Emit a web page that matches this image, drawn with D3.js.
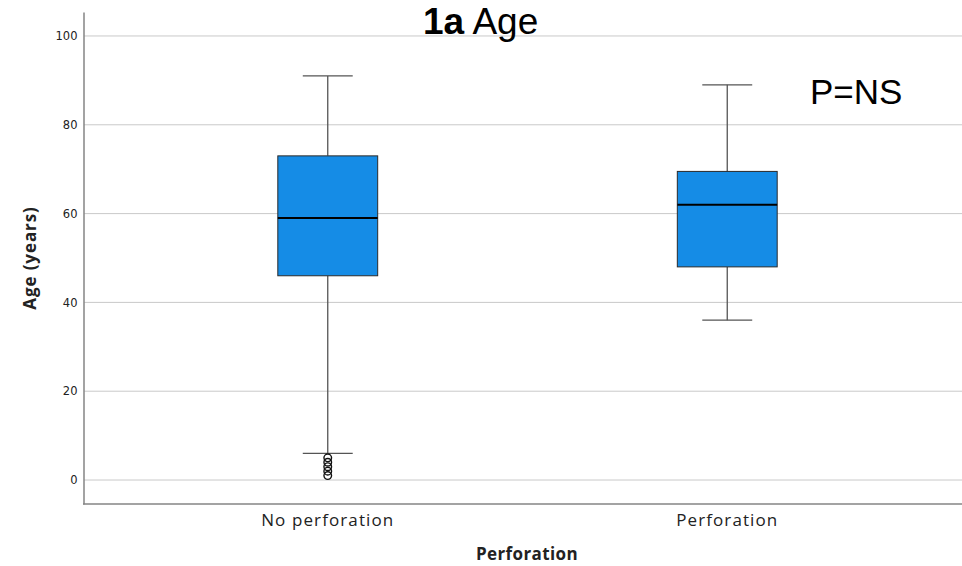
<!DOCTYPE html>
<html>
<head>
<meta charset="utf-8">
<script src="https://cdn.jsdelivr.net/npm/d3@7"></script>
<style>
  body { margin: 0; background: #fff; }
  svg { display: block; }
</style>
</head>
<body>
<div id="chart"></div>
<script>
// values
const categories = ["No perforation", "Perforation"];
const whiskerLow = [6, 36];
const q1 = [46, 48];
const median = [59, 62];
const q3 = [73, 69.5];
const whiskerHigh = [91, 89];
const outliers = [[1, 2, 3, 4, 5], []];
const yTicks = [0, 20, 40, 60, 80, 100];

const width = 962, height = 566;
const svg = d3.select("#chart").append("svg")
  .attr("width", width)
  .attr("height", height);

const x = d3.scaleBand().domain(categories).range([128, 927]).padding(0);
const y = d3.scaleLinear().domain([-5.4, 105.4]).range([504, 12]);
const boxW = x.bandwidth() * 0.25;

// gridlines
svg.append("g")
  .selectAll("line")
  .data(yTicks)
  .enter().append("line")
  .attr("x1", 84).attr("x2", width)
  .attr("y1", d => y(d)).attr("y2", d => y(d))
  .attr("stroke", "#c9c9c9")
  .attr("stroke-width", 1);

// y axis
const yAxis = svg.append("g")
  .attr("transform", "translate(83.5,0)")
  .call(d3.axisLeft(y).tickValues(yTicks).tickSize(0).tickPadding(6));
yAxis.select(".domain").attr("stroke", "#858585").attr("stroke-width", 1.5);
yAxis.selectAll("text")
  .attr("font-family", "DejaVu Sans")
  .attr("font-size", 11.5)
  .attr("fill", "#222");

// x axis
const xAxis = svg.append("g")
  .attr("transform", "translate(0,504)")
  .call(d3.axisBottom(x).tickSize(0).tickPadding(10));
xAxis.select(".domain").attr("d", "M83,0H" + width).attr("stroke", "#858585").attr("stroke-width", 1.5);
xAxis.selectAll("text")
  .attr("font-family", "Open Sans")
  .attr("font-size", 17)
  .attr("letter-spacing", 1.1)
  .attr("fill", "#222");

const rows = categories.map((c, i) => ({
  cat: c, lo: whiskerLow[i], q1: q1[i], med: median[i], q3: q3[i], hi: whiskerHigh[i], out: outliers[i]
}));

const g = svg.append("g")
  .selectAll("g")
  .data(rows)
  .enter().append("g")
  .attr("transform", d => "translate(" + (x(d.cat) + x.bandwidth() / 2) + ",0)");

// whisker stems
g.append("line")
  .attr("x1", 0).attr("x2", 0)
  .attr("y1", d => y(d.hi)).attr("y2", d => y(d.q3))
  .attr("stroke", "#555").attr("stroke-width", 1.3);
g.append("line")
  .attr("x1", 0).attr("x2", 0)
  .attr("y1", d => y(d.q1)).attr("y2", d => y(d.lo))
  .attr("stroke", "#555").attr("stroke-width", 1.3);

// caps
g.append("line")
  .attr("x1", -boxW / 4).attr("x2", boxW / 4)
  .attr("y1", d => y(d.hi)).attr("y2", d => y(d.hi))
  .attr("stroke", "#555").attr("stroke-width", 1.3);
g.append("line")
  .attr("x1", -boxW / 4).attr("x2", boxW / 4)
  .attr("y1", d => y(d.lo)).attr("y2", d => y(d.lo))
  .attr("stroke", "#555").attr("stroke-width", 1.3);

// boxes
g.append("rect")
  .attr("x", -boxW / 2)
  .attr("width", boxW)
  .attr("y", d => y(d.q3))
  .attr("height", d => y(d.q1) - y(d.q3))
  .attr("fill", "#158ce6")
  .attr("stroke", "#2a2a2a")
  .attr("stroke-width", 1);

// medians
g.append("line")
  .attr("x1", -boxW / 2).attr("x2", boxW / 2)
  .attr("y1", d => y(d.med)).attr("y2", d => y(d.med))
  .attr("stroke", "#000").attr("stroke-width", 2);

// outliers
g.selectAll("circle")
  .data(d => d.out)
  .enter().append("circle")
  .attr("cx", 0)
  .attr("cy", d => y(d))
  .attr("r", 3.8)
  .attr("fill", "none")
  .attr("stroke", "#111")
  .attr("stroke-width", 1.4);

// axis titles
svg.append("text")
  .attr("transform", "translate(36,258) rotate(-90)")
  .attr("text-anchor", "middle")
  .attr("font-family", "Open Sans")
  .attr("font-weight", "bold")
  .attr("font-size", 17)
  .attr("letter-spacing", 0.9)
  .attr("fill", "#222")
  .text("Age (years)");

svg.append("text")
  .attr("x", 527).attr("y", 560)
  .attr("text-anchor", "middle")
  .attr("font-family", "Open Sans")
  .attr("font-weight", "bold")
  .attr("font-size", 17)
  .attr("letter-spacing", 0.4)
  .attr("fill", "#222")
  .text("Perforation");

// title
const title = svg.append("text")
  .attr("x", 423).attr("y", 34)
  .attr("font-family", "Liberation Sans")
  .attr("font-size", 37)
  .attr("fill", "#000");
title.append("tspan").attr("font-weight", "bold").text("1a");
title.append("tspan").text(" Age");

svg.append("text")
  .attr("x", 810).attr("y", 104)
  .attr("font-family", "Liberation Sans")
  .attr("font-size", 35)
  .attr("fill", "#000")
  .text("P=NS");
</script>
</body>
</html>
